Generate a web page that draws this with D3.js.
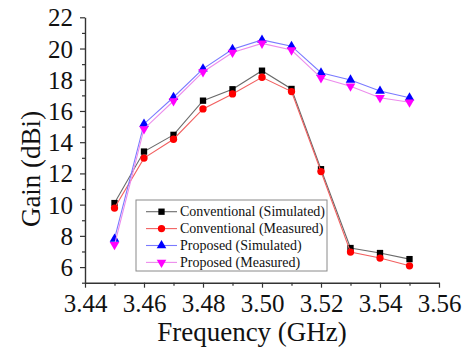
<!DOCTYPE html>
<html>
<head>
<meta charset="utf-8">
<script src="https://cdn.jsdelivr.net/npm/d3@7"></script>
<style>
  html, body { margin: 0; padding: 0; background: #fff; }
</style>
</head>
<body>
<svg id="chart" width="470" height="350" font-family="Liberation Serif"></svg>
<script>
// ---- data ----
const frequency = [3.45, 3.46, 3.47, 3.48, 3.49, 3.50, 3.51, 3.52, 3.53, 3.54, 3.55];
const convSimulated = [10.1, 13.4, 14.47, 16.66, 17.39, 18.58, 17.41, 12.27, 7.22, 6.9, 6.51];
const convMeasured  = [9.78, 12.98, 14.19, 16.13, 17.09, 18.16, 17.24, 12.12, 6.96, 6.58, 6.08];
const propSimulated = [7.8, 15.17, 16.88, 18.7, 19.95, 20.55, 20.15, 18.45, 17.99, 17.28, 16.85];
const propMeasured  = [7.43, 14.85, 16.64, 18.5, 19.75, 20.33, 19.9, 18.12, 17.58, 16.85, 16.56];
const seriesNames = ["Conventional (Simulated)", "Conventional (Measured)", "Proposed (Simulated)", "Proposed (Measured)"];
const xMajorTicks = [3.44, 3.46, 3.48, 3.50, 3.52, 3.54, 3.56];
const xMinorTicks = [3.45, 3.47, 3.49, 3.51, 3.53, 3.55];
const yMajorTicks = [6, 8, 10, 12, 14, 16, 18, 20, 22];
const yMinorTicks = [5, 7, 9, 11, 13, 15, 17, 19, 21];
const xTitle = "Frequency (GHz)";
const yTitle = "Gain (dBi)";

// ---- styles ----
const FONT = "Liberation Serif";
const styles = [
  { line: "#6a6a6a", fill: "#000000", symbol: d3.symbolSquare, size: 40, rot: 0 },
  { line: "#f26060", fill: "#ff0000", symbol: d3.symbolCircle, size: 42, rot: 0 },
  { line: "#7a7aff", fill: "#0000ff", symbol: d3.symbolTriangle, size: 40, rot: 0 },
  { line: "#ec8cec", fill: "#ff00ff", symbol: d3.symbolTriangle, size: 40, rot: 180 }
];
const allSeries = [convSimulated, convMeasured, propSimulated, propMeasured];

const svg = d3.select("#chart");
const x = d3.scaleLinear().domain([3.44, 3.56]).range([85, 439]);
const y = d3.scaleLinear().domain([5, 22]).range([282.7, 17.3]);
const axisColor = "#333";

function shiftText(sel, frac) {
  sel.attr("text-anchor", null).each(function () {
    const w = this.getComputedTextLength();
    const x0 = +(this.getAttribute("x") || 0);
    this.setAttribute("x", x0 - w * frac);
  });
}

// ---- axes ----
function styleAxis(g) {
  g.attr("font-family", FONT).attr("font-size", 25).attr("text-anchor", null);
  g.select(".domain").attr("stroke", axisColor).attr("stroke-width", 1.4);
  g.selectAll(".tick line").attr("stroke", axisColor).attr("stroke-width", 1.2);
  g.selectAll(".tick text").attr("fill", "#111");
}

const xAxisG = svg.append("g").attr("transform", `translate(0,${y(5)})`)
  .call(d3.axisBottom(x).tickValues(xMajorTicks).tickSizeInner(5).tickSizeOuter(0)
    .tickPadding(7).tickFormat(d3.format(".2f")));
styleAxis(xAxisG);
xAxisG.selectAll(".tick text").attr("dy", "0.71em").call(shiftText, 0.5);

const xMinorG = svg.append("g").attr("transform", `translate(0,${y(5)})`)
  .call(d3.axisBottom(x).tickValues(xMinorTicks).tickSize(3).tickFormat(""));
xMinorG.select(".domain").remove();
xMinorG.selectAll(".tick line").attr("stroke", axisColor).attr("stroke-width", 1.2);

const yAxisG = svg.append("g").attr("transform", `translate(${x(3.44)},0)`)
  .call(d3.axisLeft(y).tickValues(yMajorTicks).tickSizeInner(5).tickSizeOuter(0)
    .tickPadding(7).tickFormat(d3.format("d")));
styleAxis(yAxisG);
yAxisG.selectAll(".tick text").attr("dy", "0.34em").call(shiftText, 1);

const yMinorG = svg.append("g").attr("transform", `translate(${x(3.44)},0)`)
  .call(d3.axisLeft(y).tickValues(yMinorTicks).tickSize(3).tickFormat(""));
yMinorG.select(".domain").remove();
yMinorG.selectAll(".tick line").attr("stroke", axisColor).attr("stroke-width", 1.2);

// ---- titles ----
svg.append("text").attr("x", 252).attr("y", 341)
  .attr("font-family", FONT).attr("font-size", 27).attr("fill", "#111").text(xTitle)
  .call(shiftText, 0.5);
svg.append("g").attr("transform", "translate(40,169) rotate(-90)").append("text")
  .attr("x", 0).attr("y", 0)
  .attr("font-family", FONT).attr("font-size", 27).attr("fill", "#111").text(yTitle)
  .call(shiftText, 0.5);

// ---- series ----
const line = d3.line().x((d, i) => x(frequency[i])).y(d => y(d));
allSeries.forEach((vals, k) => {
  const st = styles[k];
  svg.append("path").datum(vals).attr("d", line)
    .attr("fill", "none").attr("stroke", st.line).attr("stroke-width", 1.1);
  svg.append("g").selectAll("path").data(vals).join("path")
    .attr("d", d3.symbol().type(st.symbol).size(st.size))
    .attr("transform", (d, i) => `translate(${x(frequency[i])},${y(d)}) rotate(${st.rot})`)
    .attr("fill", st.fill);
});

// ---- legend ----
const lg = svg.append("g");
lg.append("rect").attr("x", 136).attr("y", 200).attr("width", 191).attr("height", 71)
  .attr("fill", "#fff").attr("stroke", "#8a8a8a").attr("stroke-width", 1);
seriesNames.forEach((name, k) => {
  const st = styles[k];
  const cy = 211.7 + k * 16.9;
  lg.append("line").attr("x1", 146).attr("x2", 177).attr("y1", cy).attr("y2", cy)
    .attr("stroke", st.line).attr("stroke-width", 1.1);
  lg.append("path").attr("d", d3.symbol().type(st.symbol).size(st.size))
    .attr("transform", `translate(161.5,${cy}) rotate(${st.rot})`).attr("fill", st.fill);
  lg.append("text").attr("x", 180).attr("y", cy).attr("dy", "0.33em")
    .attr("font-family", FONT).attr("font-size", 14).attr("fill", "#111").text(name);
});
</script>
</body>
</html>
